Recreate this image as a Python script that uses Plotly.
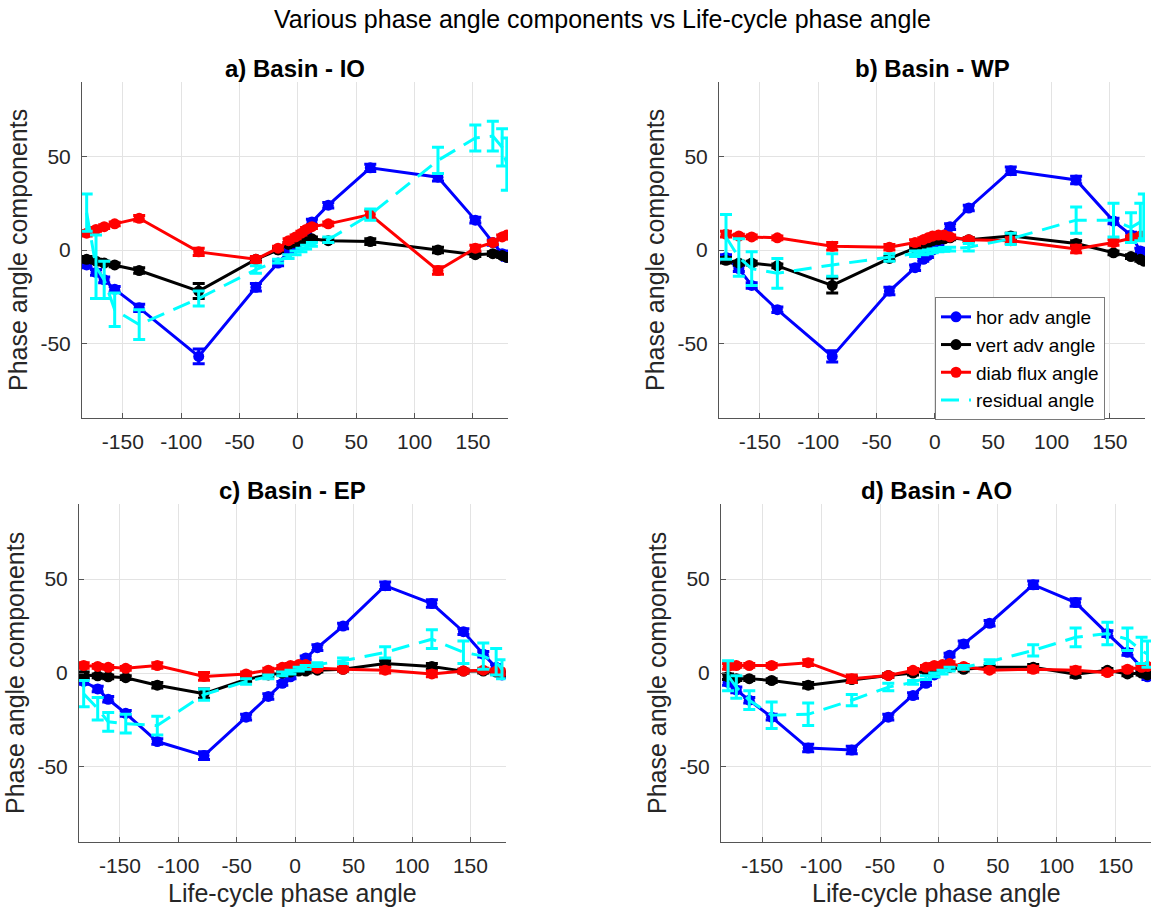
import plotly.graph_objects as go

# ---------------- data ----------------
# a) Basin - IO
x_io = [-181, -173, -166, -157, -136, -85, -36, -17, -8, -2, 3, 7, 12, 26, 62, 120, 152, 167, 175, 179]
hor_io = [-8, -12, -16, -21, -31, -57, -20, -7, -1, 2, 6, 10, 15, 24, 44, 39, 16, 4, -2, -4]
hor_io_err = [1.5, 1.5, 1.5, 1.5, 2, 4, 2, 1.5, 1, 1, 1, 1, 1.5, 1.5, 2, 2, 1.5, 1.5, 1.5, 1.5]
vert_io = [-5, -6, -7, -8, -11, -22, -5, 0, 3, 4, 5, 5.5, 6, 5, 4.5, 0, -2.5, -2, -3, -4]
vert_io_err = [1.5, 1, 1, 1, 1.5, 4, 1, 1, 1, 1, 1, 1, 1, 1, 1.5, 1.5, 1, 1, 1, 1]
diab_io = [9, 11, 12.5, 14, 17, -1, -5, 1, 5, 7, 9, 11, 12.5, 14, 19, -11, 1, 4, 7, 8]
diab_io_err = [1.5, 1, 1, 1, 1.5, 2, 1.5, 1, 1, 1, 1, 1, 1, 1, 2, 2, 1.5, 1, 1, 1]
res_io = [20, -9, -16, -32, -40, -26, -10.5, -6, -3.5, -1.5, 0, 1.5, 3, 5.5, 19, 48, 60, 61, 55, 46]
res_io_err = [10, 17, 10, 9, 8, 4, 2, 1, 1, 1, 1, 1, 1, 1.5, 3, 7, 7, 8, 10, 14]

# b) Basin - WP
x_wp = [-179, -168, -157, -135, -88, -39, -17, -10, -6, -2, 3, 8, 13, 29, 65, 121, 153, 168, 176, 179]
hor_wp = [-4, -10, -19, -32, -57, -22, -9.5, -5, -3, 0, 4, 8, 12.5, 22.5, 42.5, 37.5, 15.5, 8, -0.5, -2.5]
hor_wp_err = [1.5, 1.5, 1.5, 1.5, 3, 2, 1.5, 1, 1, 1, 1, 1, 1.5, 1.5, 2, 2, 1.5, 1.5, 1.5, 1.5]
vert_wp = [-5.5, -7, -7, -8.5, -19, -4.5, 1, 3, 4, 5, 5.5, 6, 6.5, 5.5, 7.5, 3.5, -1.5, -3.5, -5, -6]
vert_wp_err = [1.5, 1, 1, 1, 4, 1, 1, 1, 1, 1, 1, 1, 1, 1, 1.5, 1.5, 1, 1, 1, 1]
diab_wp = [8.5, 7.5, 7, 6.5, 2, 1.5, 4, 5.5, 6.5, 7.5, 8, 8, 7, 5.5, 5, 0.5, 4, 6.5, 7.5, 7.5]
diab_wp_err = [1.5, 1, 1, 1, 2, 1.5, 1.5, 1, 1, 1, 1, 1, 1, 1, 1.5, 2, 1.5, 1, 1, 1]
res_wp = [7, -4, -10, -12.5, -8, -4, -2, -1.5, -1, -0.5, 0, 0.3, 0.5, 1.5, 6, 16, 16, 12, 15, 18]
res_wp_err = [12, 10, 9, 8, 6, 2, 1.5, 1, 1, 1, 1, 1, 1, 2, 3, 7, 9, 8, 10, 12]

# c) Basin - EP
x_ep = [-181, -169, -160, -145, -118, -78, -42, -23, -11, -4, 3, 9, 19, 41, 77, 117, 144, 161, 172, 177]
hor_ep = [-4.5, -8.5, -14, -21.5, -36.5, -44, -23.5, -12.5, -5.5, -2, 3, 8, 13.5, 25, 46.5, 37, 22, 10, 3, -1]
hor_ep_err = [1.5, 1.5, 1.5, 1.5, 1.5, 2, 1.5, 1.5, 1, 1, 1, 1, 1.5, 1.5, 2, 2, 1.5, 1.5, 1.5, 1.5]
vert_ep = [-1, -1.5, -2, -2.5, -6.5, -11, -3.5, -1, 0, 0.5, 1, 1, 1.5, 2, 5, 3.5, 1, 1, 0.5, -0.5]
vert_ep_err = [1.5, 1, 1, 1, 1.5, 2.5, 1, 1, 1, 1, 1, 1, 1, 1, 1.5, 1.5, 1, 1, 1, 1]
diab_ep = [4, 3.5, 3, 2.5, 4, -1.8, -0.5, 1.5, 3, 4, 4.5, 4.5, 2.5, 2, 1.5, -0.5, 1, 1.5, 1, 0.5]
diab_ep_err = [1.5, 1, 1, 1, 1.5, 2, 1, 1, 1, 1, 1, 1, 1, 1, 1.5, 1.5, 1, 1, 1, 1]
res_ep = [-11, -19, -26, -27, -28, -11.5, -4.5, -2, -0.5, 0.5, 2, 3, 4.5, 6.5, 11, 18, 11, 9, 6, 2]
res_ep_err = [7, 6, 5, 5, 5, 3, 1.5, 1, 1, 1, 1, 1, 1, 1.5, 3, 5, 6, 7, 7, 5]

# d) Basin - AO
x_ao = [-179, -172, -161, -142, -111, -74, -43, -22, -11, -4, 3, 9, 21, 43, 80, 116, 143, 160, 172, 177]
hor_ao = [-5, -9, -14.5, -23.5, -40, -41, -23.5, -12, -5.5, -1, 4, 9.5, 15.5, 26.5, 47, 37.5, 21, 11, 3, -2]
hor_ao_err = [1.5, 1.5, 1.5, 1.5, 2, 2, 1.5, 1.5, 1, 1, 1, 1, 1.5, 1.5, 2, 2, 1.5, 1.5, 1.5, 1.5]
vert_ao = [-2, -3, -3, -4, -6.5, -3.5, -1.3, 0, 1.4, 2, 3, 3, 2, 3, 3, -0.7, 1.4, -0.5, 0, -1]
vert_ao_err = [1.5, 1, 1, 1, 1.5, 1.5, 1, 1, 1, 1, 1, 1, 1, 1, 1.5, 1.5, 1, 1, 1, 1]
diab_ao = [3.5, 4, 4, 4, 5.5, -3, -1.3, 1.4, 3, 4, 4.5, 5, 3.5, 1.5, 2, 1.5, 0.2, 2, 3, 3.5]
diab_ao_err = [1.5, 1, 1, 1, 1.5, 2, 1, 1, 1, 1, 1, 1, 1, 1, 1.5, 1.5, 1, 1, 1, 1]
res_ao = [-1.5, -7.5, -14.5, -22.5, -22, -14.5, -7.5, -5, -2.5, -1, 0.5, 2, 3, 6, 12, 19, 21, 18, 12, 10]
res_ao_err = [8, 6, 5, 7, 6, 3, 2, 1, 1, 1, 1, 1, 1, 1, 3, 5, 6, 6, 7, 7]

panel_titles = ["a) Basin - IO", "b) Basin - WP", "c) Basin - EP", "d) Basin - AO"]
series_names = ["hor adv angle", "vert adv angle", "diab flux angle", "residual angle"]
series_colors = ["#0000FF", "#000000", "#FF0000", "#00FFFF"]
main_title = "Various phase angle components vs Life-cycle phase angle"
x_label = "Life-cycle phase angle"
y_label = "Phase angle components"
x_ticks = [-150, -100, -50, 0, 50, 100, 150]
y_ticks = [-50, 0, 50]

panels = [
    (x_io, [(hor_io, hor_io_err), (vert_io, vert_io_err), (diab_io, diab_io_err), (res_io, res_io_err)]),
    (x_wp, [(hor_wp, hor_wp_err), (vert_wp, vert_wp_err), (diab_wp, diab_wp_err), (res_wp, res_wp_err)]),
    (x_ep, [(hor_ep, hor_ep_err), (vert_ep, vert_ep_err), (diab_ep, diab_ep_err), (res_ep, res_ep_err)]),
    (x_ao, [(hor_ao, hor_ao_err), (vert_ao, vert_ao_err), (diab_ao, diab_ao_err), (res_ao, res_ao_err)]),
]

W, H = 1157, 916
# axes boxes in pixels: (left, right, top, bottom)
boxes = [(82, 508, 82, 418), (719, 1145, 82, 418), (79, 505.5, 504, 842), (721, 1151, 504, 842)]

fig = go.Figure()
for i, (xv, series) in enumerate(panels):
    ax = "" if i == 0 else str(i + 1)
    for j, (yv, ev) in enumerate(series):
        col = series_colors[j]
        is_res = j == 3
        fig.add_trace(go.Scatter(
            x=xv, y=yv,
            mode="lines" if is_res else "lines+markers",
            name=series_names[j],
            legendgroup=series_names[j],
            showlegend=(i == 0),
            line=dict(color=col, width=3, dash="18px,10px" if is_res else "solid"),
            marker=dict(color=col, size=11, symbol="circle"),
            error_y=dict(type="data", array=ev, visible=True, color=col, thickness=3, width=6),
            xaxis="x" + ax, yaxis="y" + ax,
        ))

layout = dict(
    width=W, height=H,
    margin=dict(l=0, r=0, t=0, b=0),
    paper_bgcolor="white", plot_bgcolor="white",
    font=dict(family="Liberation Sans, Arial, sans-serif", color="#262626"),
    showlegend=True,
    legend=dict(x=935 / W, y=1 - 297 / H, xanchor="left", yanchor="top",
                bordercolor="#7a7a7a", borderwidth=1, bgcolor="white",
                font=dict(size=19, color="#000000"), tracegroupgap=0),
)
annotations = []
for i, (l, r, t, b) in enumerate(boxes):
    ax = "" if i == 0 else str(i + 1)
    layout["xaxis" + ax] = dict(
        domain=[l / W, r / W], range=[-185, 180], anchor="y" + ax,
        tickvals=x_ticks, ticktext=[str(v) for v in x_ticks],
        showgrid=True, gridcolor="#e3e3e3", gridwidth=1, zeroline=False,
        showline=True, linecolor="#555555", linewidth=1,
        ticks="inside", ticklen=5, tickcolor="#555555",
        tickfont=dict(size=21, color="#262626"), ticklabelstandoff=5,
    )
    layout["yaxis" + ax] = dict(
        domain=[1 - b / H, 1 - t / H], range=[-90, 90], anchor="x" + ax,
        tickvals=y_ticks, ticktext=[str(v) for v in y_ticks],
        showgrid=True, gridcolor="#e3e3e3", gridwidth=1, zeroline=False,
        showline=True, linecolor="#555555", linewidth=1,
        ticks="inside", ticklen=5, tickcolor="#555555",
        tickfont=dict(size=21, color="#262626"), ticklabelstandoff=6,
    )
    cx = (l + r) / 2
    annotations.append(dict(text="<b>" + panel_titles[i] + "</b>", x=cx / W, y=1 - (t - 14) / H,
                            xref="paper", yref="paper", showarrow=False,
                            xanchor="center", yanchor="middle",
                            font=dict(size=24, color="#000000")))
    annotations.append(dict(text=y_label, x=(l - 64) / W, y=1 - (t + b) / 2 / H,
                            xref="paper", yref="paper", showarrow=False, textangle=-90,
                            xanchor="center", yanchor="middle",
                            font=dict(size=25, color="#262626")))
    if i >= 2:
        annotations.append(dict(text=x_label, x=cx / W, y=1 - (b + 51) / H,
                                xref="paper", yref="paper", showarrow=False,
                                xanchor="center", yanchor="middle",
                                font=dict(size=25, color="#262626")))
annotations.append(dict(text=main_title, x=602 / W, y=1 - 19 / H, xref="paper", yref="paper",
                        showarrow=False, xanchor="center", yanchor="middle",
                        font=dict(size=25, color="#000000")))
layout["annotations"] = annotations
fig.update_layout(**layout)
fig.write_html("out.html")
